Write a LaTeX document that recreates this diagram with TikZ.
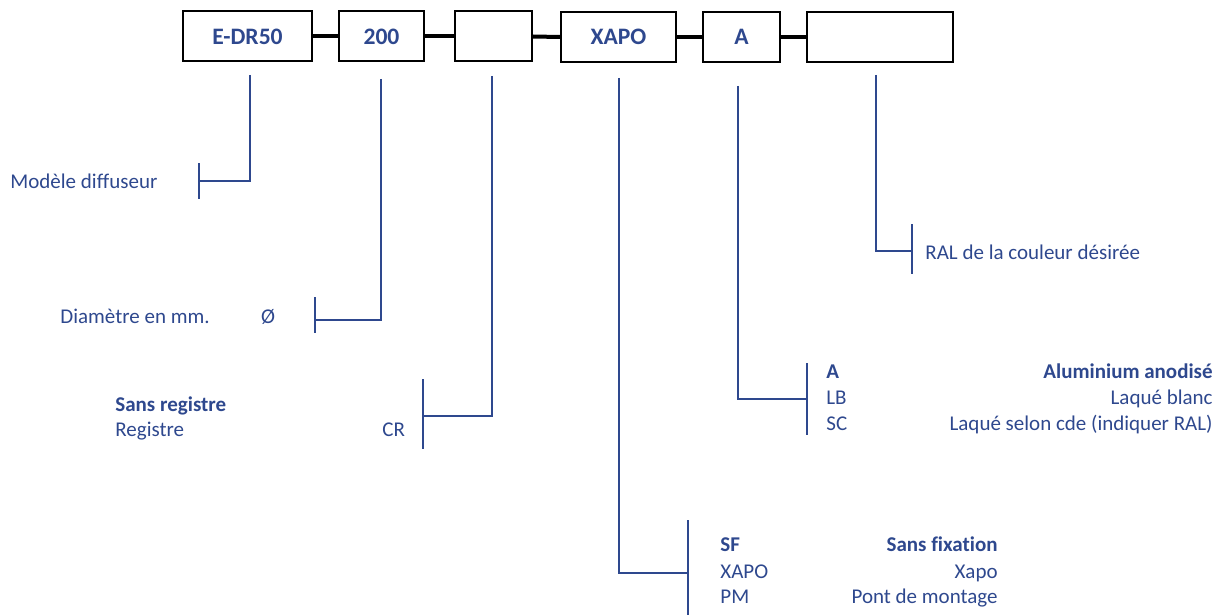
\documentclass[tikz,border=0pt]{standalone}
\usepackage{fontspec}
\setmainfont{Carlito}[Ligatures={NoCommon}]
\usetikzlibrary{positioning}
\definecolor{codeblue}{RGB}{46,72,142}
\tikzset{
  codebox/.style={draw=black,line width=1pt,minimum height=25pt,inner sep=0pt,
    text=codeblue,font=\fontsize{11.8}{14}\selectfont\bfseries},
  link/.style={black,line width=2pt},
  branch/.style={codeblue,line width=1pt},
  lbl/.style={text=codeblue,font=\fontsize{10.5}{12.6}\selectfont,inner sep=0pt,
    text height=7.5pt,text depth=2pt},
}
\begin{document}
\begin{tikzpicture}[x=0.5pt,y=-0.5pt]
\useasboundingbox (0,0) rectangle (1219,615);
% boxes of the code
\node[codebox,minimum width=64.5pt] (model) at (247.5,36.5) {E-DR50};
\node[codebox,minimum width=42.5pt] (diam) at (381.5,36.5) {200};
\node[codebox,minimum width=38.5pt] (reg) at (493.5,36.5) {};
\node[codebox,minimum width=57.5pt] (fix) at (618.5,37) {XAPO};
\node[codebox,minimum width=38.5pt] (fin) at (741.5,37) {A};
\node[codebox,minimum width=73pt] (ral) at (880,37) {};
\draw[link] (model.east) -- (diam.west);
\draw[link] (diam.east) -- (reg.west);
\draw[link] (reg.east) -- (fix.west);
\draw[link] (fix.east) -- (fin.west);
\draw[link] (fin.east) -- (ral.west);

% labels
\node[lbl,anchor=west] (tmodel) at (10,183) {Modèle diffuseur};
\node[lbl,anchor=west] (tdiam) at (60,318) {Diamètre en mm.};
\node[lbl] (tphi) at (268,318) {Ø};
\node[lbl,anchor=west,font=\fontsize{10.5}{12.6}\selectfont\bfseries] (tsr) at (115,406) {Sans registre};
\node[lbl,anchor=west] (tr) at (115,431) {Registre};
\node[lbl,anchor=west] (tcr) at (382,431) {CR};
\node[lbl,anchor=west] (tral) at (925,254) {RAL de la couleur désirée};
\node[lbl,anchor=west,font=\fontsize{10.5}{12.6}\selectfont\bfseries] (ta) at (826,373) {A};
\node[lbl,anchor=west] (tlb) at (826,399) {LB};
\node[lbl,anchor=west] (tsc) at (826,425) {SC};
\node[lbl,anchor=east,font=\fontsize{10.5}{12.6}\selectfont\bfseries] (taa) at (1213,373) {Aluminium anodisé};
\node[lbl,anchor=east] (tlab) at (1213,399) {Laqué blanc};
\node[lbl,anchor=east] (tlsc) at (1213,425) {Laqué selon cde (indiquer RAL)};
\node[lbl,anchor=west,font=\fontsize{10.5}{12.6}\selectfont\bfseries] (tsf) at (720,546) {SF};
\node[lbl,anchor=west] (txapo) at (720,573) {XAPO};
\node[lbl,anchor=west] (tpm) at (720,598) {PM};
\node[lbl,anchor=east,font=\fontsize{10.5}{12.6}\selectfont\bfseries] (tsfx) at (998,546) {Sans fixation};
\node[lbl,anchor=east] (txap) at (998,573) {Xapo};
\node[lbl,anchor=east] (tpmt) at (998,598) {Pont de montage};

% branches
\coordinate (s1) at (250,75);  \coordinate (k1) at (199,181);
\coordinate (s2) at (381,79);  \coordinate (k2) at (315,320);
\coordinate (s3) at (492,76);  \coordinate (k3) at (423,416);
\coordinate (s4) at (619,78);  \coordinate (k4) at (688,573);
\coordinate (s5) at (738,86);  \coordinate (k5) at (807,399);
\coordinate (s6) at (876,75);  \coordinate (k6) at (912,251);
\draw[branch] (s1) |- (k1);
\draw[branch] (k1) ++(0,-18) -- ++(0,36);
\draw[branch] (s2) |- (k2);
\draw[branch] (k2) ++(0,-23) -- ++(0,36);
\draw[branch] (s3) |- (k3);
\draw[branch] (k3) ++(0,-37) -- ++(0,70);
\draw[branch] (s4) |- (k4);
\draw[branch] (k4) ++(0,-53) -- ++(0,95);
\draw[branch] (s5) |- (k5);
\draw[branch] (k5) ++(0,-36) -- ++(0,72);
\draw[branch] (s6) |- (k6);
\draw[branch] (k6) ++(0,-27) -- ++(0,50);
\end{tikzpicture}
\end{document}
